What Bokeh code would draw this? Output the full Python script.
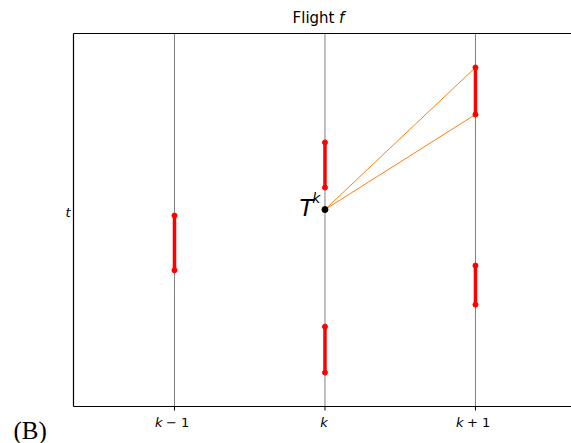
from bokeh.plotting import figure
from bokeh.models import Range1d, Label
from bokeh.embed import file_html
from bokeh.resources import INLINE

# ---- data ----
stages = [-1, 0, 1]
stage_prefix = ["k", "k", "k"]
stage_suffix = ["− 1", "", "+ 1"]
seg_x = [-1, 0, 0, 1, 1]
seg_y0 = [3.65, 5.87, 0.91, 7.83, 2.73]
seg_y1 = [5.12, 7.08, 2.14, 9.09, 3.78]
tk_x = [0]
tk_y = [5.28]
link_x1 = [1, 1]
link_y1 = [9.09, 7.83]
title_main = "Flight"
title_var = "f"
ylabel = "t"
point_label = "T"
point_sup = "k"
panel_tag = "(B)"

# axes box (data units) and visible window
x_lo, x_hi = -1.671, 1.638
y_lo, y_hi = 0.0, 10.0
xr = (-2.156, 1.638)
yr = (-0.992, 10.885)

p = figure(width=571, height=443, output_backend="svg", toolbar_location=None,
           x_range=Range1d(*xr), y_range=Range1d(*yr),
           min_border=0, background_fill_color="white", border_fill_color="white")
p.outline_line_color = None
p.grid.visible = False
p.axis.visible = False

# stage lines
p.segment(x0=stages, y0=[y_lo] * len(stages), x1=stages, y1=[y_hi] * len(stages),
          line_color="#808080", line_width=1)

# axes box spines (left, top, bottom)
p.segment(x0=[x_lo, x_lo, x_lo], y0=[y_lo, y_hi, y_lo],
          x1=[x_lo, x_hi, x_hi], y1=[y_hi, y_hi, y_lo],
          line_color="black", line_width=1.2)
# tick marks
tick_len = 4 / 37.3
p.segment(x0=stages, y0=[y_lo] * len(stages), x1=stages, y1=[y_lo - tick_len] * len(stages),
          line_color="black", line_width=1)

# links and intervals
p.segment(x0=[tk_x[0]] * len(link_x1), y0=[tk_y[0]] * len(link_y1), x1=link_x1, y1=link_y1,
          line_color="#ff7f0e", line_width=1)
p.segment(x0=seg_x, y0=seg_y0, x1=seg_x, y1=seg_y1, line_color="red", line_width=3.5)
p.scatter(x=seg_x + seg_x, y=seg_y0 + seg_y1, size=5, color="red")
p.scatter(x=tk_x, y=tk_y, size=6, color="black")

font = "DejaVu Sans"

def lab(x, y, text, align, xoff=0, size="13px", style="normal", fnt=font):
    p.add_layout(Label(x=x, y=y, x_offset=xoff, text=text, text_align=align,
                       text_baseline="middle", text_font=fnt, text_font_style=style,
                       text_font_size=size, text_color="black"))

# tick labels
tick_y = -0.429
for s, pre, suf in zip(stages, stage_prefix, stage_suffix):
    if suf:
        lab(s, tick_y, pre, "right", -12, style="italic")
        lab(s, tick_y, suf, "left", -8.5)
    else:
        lab(s, tick_y, pre, "center", -1, style="italic")

# title
lab(0, 10.422, title_main, "right", 9.5, size="15px")
lab(0, 10.422, title_var, "left", 14, size="15px", style="italic")

# y label
lab(x_lo, 5.214, ylabel, "right", -3, style="italic")

# T^k
lab(tk_x[0], 5.335, point_label, "right", -11.5, size="23px", style="italic")
lab(tk_x[0], 5.603, point_sup, "right", -4.5, size="14px", style="italic")

# panel tag
lab(x_lo, -0.633, panel_tag, "left", -60, size="25px", fnt="Liberation Serif")

open("out.html", "w").write(file_html(p, INLINE))
